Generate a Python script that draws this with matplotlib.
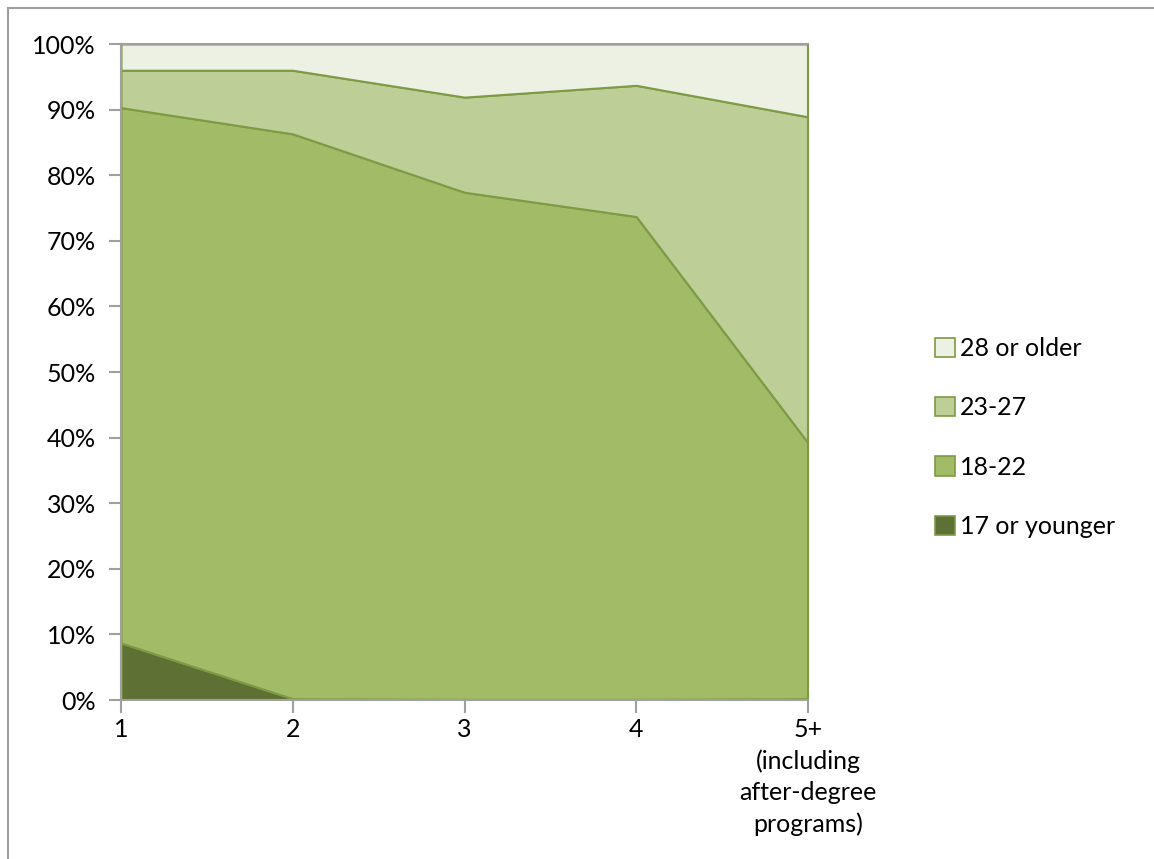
import numpy as np
import matplotlib.pyplot as plt
from matplotlib.patches import Patch
from matplotlib.lines import Line2D

plt.rcParams['font.family'] = ['Lato', 'DejaVu Sans']

years = ['1', '2', '3', '4', '5+\n(including\nafter-degree\nprograms)']
age_17 = [8.7, 0.2, 0.1, 0.1, 0.2]
age_18_22 = [81.6, 86.1, 77.3, 73.6, 39.0]
age_23_27 = [5.7, 9.7, 14.5, 20.0, 49.7]
age_28 = [4.0, 4.0, 8.1, 6.3, 11.1]

labels = ['17 or younger', '18-22', '23-27', '28 or older']
colors = ['#5f7034', '#a2bb66', '#bdcf97', '#edf1e4']
edge = '#7d9a45'

fig = plt.figure(figsize=(11.54, 8.59), dpi=100)
ax = fig.add_axes([121 / 1154, 1 - 700 / 859, (808 - 121) / 1154, (700 - 44) / 859])

x = np.arange(len(years))
polys = ax.stackplot(x, age_17, age_18_22, age_23_27, age_28, colors=colors,
                     edgecolor=edge, linewidth=1.5)

ax.set_xlim(0, 4)
ax.set_ylim(0, 100)
ax.set_xticks(x)
ax.set_xticklabels(years, fontsize=18, linespacing=1.42)
ax.set_yticks(np.arange(0, 101, 10))
ax.set_yticklabels([f'{v}%' for v in range(0, 101, 10)], fontsize=18)

for s in ['left', 'bottom', 'top']:
    ax.spines[s].set_color('#a0a0a0')
    ax.spines[s].set_linewidth(1.5)
ax.spines['right'].set_color(edge)
ax.spines['right'].set_linewidth(1.5)
ax.tick_params(axis='both', direction='out', length=9, width=1.5, color='#a0a0a0')
ax.tick_params(axis='y', pad=9)
ax.tick_params(axis='x', pad=4)

handles = [Patch(facecolor=c, edgecolor=edge, linewidth=1.2) for c in colors]
leg = ax.legend(handles[::-1], labels[::-1], loc='center left', bbox_to_anchor=(1.17, 0.40),
                frameon=False, fontsize=18, labelspacing=1.45, handlelength=0.8,
                handleheight=0.8, handletextpad=0.2, borderaxespad=0)

# outer frame lines
fig.add_artist(Line2D([8 / 1154, 1], [1 - 8 / 859, 1 - 8 / 859], color='#a0a0a0', lw=1.5,
                      transform=fig.transFigure))
fig.add_artist(Line2D([8 / 1154, 8 / 1154], [1 - 8 / 859, 0], color='#a0a0a0', lw=1.5,
                      transform=fig.transFigure))

fig.savefig('out.png', dpi=100)
